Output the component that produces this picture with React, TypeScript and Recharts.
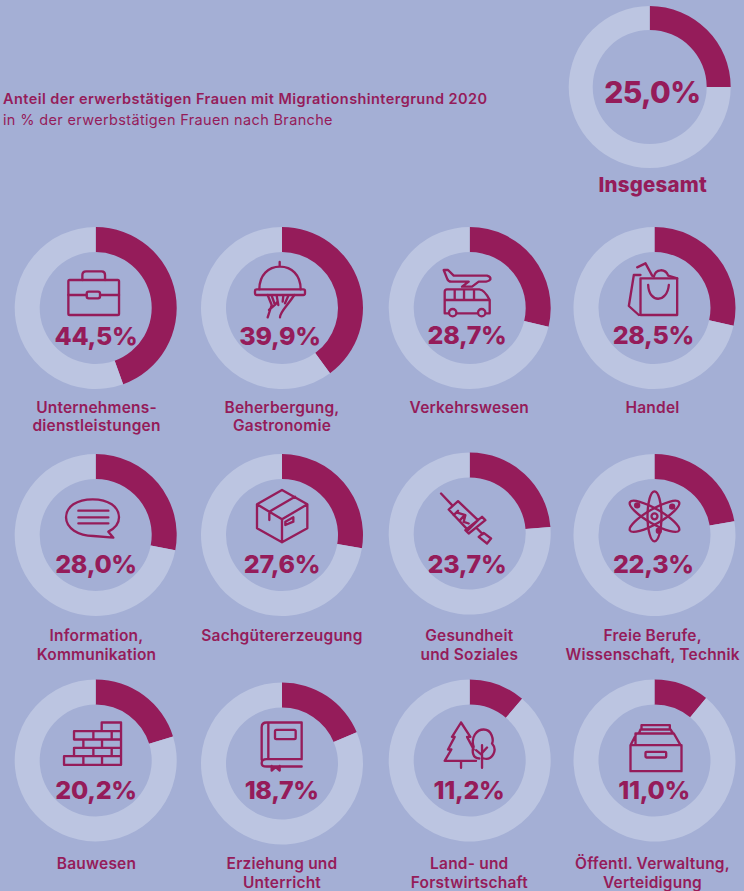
import React from "react";
import { PieChart, Pie, Cell } from "recharts";

const BG = "#A4AFD5";
const LIGHT = "#BCC5E1";
const PURPLE = "#951C5A";
const FONT = "Inter, sans-serif";

// Anteile in %
const totalValue = 25.0;
const totalLabel = "Insgesamt";
const values = [44.5, 39.9, 28.7, 28.5, 28.0, 27.6, 23.7, 22.3, 20.2, 18.7, 11.2, 11.0];
const valueLabels = ["44,5%", "39,9%", "28,7%", "28,5%", "28,0%", "27,6%", "23,7%", "22,3%", "20,2%", "18,7%", "11,2%", "11,0%"];
const categories = [
  ["Unternehmens-", "dienstleistungen"],
  ["Beherbergung,", "Gastronomie"],
  ["Verkehrswesen"],
  ["Handel"],
  ["Information,", "Kommunikation"],
  ["Sachgütererzeugung"],
  ["Gesundheit", "und Soziales"],
  ["Freie Berufe,", "Wissenschaft, Technik"],
  ["Bauwesen"],
  ["Erziehung und", "Unterricht"],
  ["Land- und", "Forstwirtschaft"],
  ["Öffentl. Verwaltung,", "Verteidigung"],
];

// Layout der Ringe
const centerX = [95.7, 282, 469.7, 654.5, 95.7, 282, 469.7, 654.5, 95.7, 282, 469.7, 654.5];
const centerY = [308, 308, 308, 308, 535, 535, 533.5, 535, 760.5, 763.5, 760.5, 760.5];
const pctX = [96, 280, 467, 653.3, 96, 282, 467, 653.3, 96, 281.7, 469, 654];
const pctY = [344.5, 344.5, 344, 344, 572.5, 573, 572.5, 573, 799, 799, 799, 799];
const labelX = [96.5, 282, 469.3, 652.5, 96.5, 282, 469.3, 652.7, 96.5, 282, 469.3, 652.5];
const labelY = [412.7, 412.7, 412.7, 412.7, 641, 641, 641, 641, 869, 869, 869, 869];

const sliceData = (v: number) => [
  { name: "Migrationshintergrund", value: v },
  { name: "Sonstige", value: 100 - v },
];

// Icons in 3x-Koordinaten, o = Ringmitte im selben Raster
const icons: { o: [number, number]; d: React.ReactNode }[] = [
  {
    o: [287, 294],
    d: (
      <>
        <rect x={205} y={210} width={152} height={105} rx={4} />
        <path d="M247 210V195Q247 184 258 184H305Q315 184 315 195V210M205 255H260M300 255H357" />
        <rect x={260} y={245} width={40} height={20} rx={6} />
      </>
    ),
  },
  {
    o: [846, 294],
    d: (
      <>
        <path d="M778 238C778 195 805 170 840 170C875 170 902 195 902 238M839 156V170" />
        <rect x={765} y={238} width={150} height={17} rx={5} />
        <path d="M803 255L815 285L803 322M840 322C840 305 860 290 883 255M815 257L825 285M830 257L835 285M850 257L848 275M865 257L855 280M807 300C815 290 825 290 832 275" />
      </>
    ),
  },
  {
    o: [293, 294],
    d: (
      <>
        <path d="M215 180H228L245 197H345Q357 200 355 208Q350 215 335 215H320L300 230H270L290 215H238Q228 215 225 205Z" />
        <path d="M225 238H322Q338 240 353 270V310H343M315 310H255M228 310H218V245Q218 238 225 238M218 270H353M248 240V270M276 240V270M306 240V270" />
        <circle cx={242} cy={308} r={11} />
        <circle cx={329} cy={308} r={11} />
      </>
    ),
  },
  {
    o: [847, 294],
    d: (
      <>
        <path d="M805 205H915V315H805ZM785 195H805M785 195L770 288L800 315M828 225C830 280 885 280 890 225" />
        <path d="M795 172L820 160L840 197M845 200C850 175 880 175 888 197L915 205" />
      </>
    ),
  },
  {
    o: [287, 285],
    d: (
      <path d="M278 178C230 178 198 200 198 232C198 265 235 287 280 288L340 293L325 275C345 265 357 250 357 232C357 200 325 178 278 178ZM235 212H325M235 232H325M235 250H325" />
    ),
  },
  {
    o: [846, 285],
    d: (
      <path d="M846 150L922 193V265L846 307L771 265V193ZM771 193L846 238L922 193M846 238V307M808 215L885 170M808 215V240M856 245L880 232V245L856 255Z" />
    ),
  },
  {
    o: [293, 280],
    d: (
      <path d="M207 160L240 195M230 208L258 183L318 240L288 270ZM245 225L258 212M262 242L275 228M258 218L280 225L275 245L290 250M280 270L290 280L340 240L330 230ZM312 262L332 282M320 290L345 310L357 295L335 278Z" />
    ),
  },
  {
    o: [847, 285],
    d: (
      <>
        <ellipse cx={847} cy={229} rx={21} ry={75} />
        <ellipse cx={847} cy={229} rx={22} ry={85} transform="rotate(60 847 229)" />
        <ellipse cx={847} cy={229} rx={22} ry={85} transform="rotate(-60 847 229)" />
        <circle cx={847} cy={229} r={9} />
        <circle cx={795} cy={196} r={6} fill={PURPLE} />
        <circle cx={900} cy={200} r={6} fill={PURPLE} />
        <circle cx={860} cy={272} r={6} fill={PURPLE} />
      </>
    ),
  },
  {
    o: [287, 271],
    d: (
      <path d="M305 157H363V284H192V258H363M305 157V182M222 183H363V208H222ZM280 183V208M335 183V208M250 208V233M306 208V233M222 233H363V258H222ZM280 233V258M335 233V258M250 258V284M306 258V284" />
    ),
  },
  {
    o: [846, 281],
    d: (
      <>
        <path d="M785 270V172Q785 158 800 158H905V268H800Q785 268 785 280Q785 290 800 290H905M805 158V268M815 288V302L827 292L839 302V288" />
        <rect x={825} y={180} width={62} height={28} rx={4} />
      </>
    ),
  },
  {
    o: [293, 271],
    d: (
      <path d="M267 157L295 200H285L305 238M267 157L240 200H248L228 238H238L218 272H312M267 272V293M322 265C300 265 300 240 305 230C295 200 315 178 335 178C360 178 365 210 360 220C378 240 360 272 335 265M330 293V225M330 255L312 240M330 248L345 232" />
    ),
  },
  {
    o: [847, 271],
    d: (
      <>
        <path d="M775 225H928V303H775ZM775 225L793 190H905L925 225M790 222V190M800 190L805 178H895L903 190M808 178V165H893V178" />
        <rect x={820} y={245} width={62} height={17} rx={3} />
      </>
    ),
  },
];

export default function App() {
  document.body.style.margin = "0";
  document.body.style.background = BG;

  return (
    <div style={{ width: 744, height: 891, background: BG, overflow: "hidden" }}>
      <PieChart width={744} height={891} margin={{ top: 0, right: 0, bottom: 0, left: 0 }}>
        <Pie
          data={sliceData(totalValue)}
          dataKey="value"
          cx={649.7}
          cy={87}
          innerRadius={57}
          outerRadius={81}
          startAngle={90}
          endAngle={-270}
          stroke="none"
          isAnimationActive={false}
        >
          <Cell fill={PURPLE} />
          <Cell fill={LIGHT} />
        </Pie>
        {values.map((v, i) => (
          <Pie
            key={categories[i][0]}
            data={sliceData(v)}
            dataKey="value"
            cx={centerX[i]}
            cy={centerY[i]}
            innerRadius={56}
            outerRadius={81}
            startAngle={90}
            endAngle={-270}
            stroke="none"
            isAnimationActive={false}
          >
            <Cell fill={PURPLE} />
            <Cell fill={LIGHT} />
          </Pie>
        ))}

        <g fontFamily={FONT} fill={PURPLE}>
          <text x={3} y={104} fontSize={14.5} fontWeight={600} letterSpacing={0.43}>
            Anteil der erwerbstätigen Frauen mit Migrationshintergrund 2020
          </text>
          <text x={3} y={125} fontSize={14.5} fontWeight={400} letterSpacing={0.35}>
            in % der erwerbstätigen Frauen nach Branche
          </text>
          <text x={652.3} y={102.7} fontSize={30} fontWeight={800} textAnchor="middle" letterSpacing={-0.6}>
            25,0%
          </text>
          <text x={652.7} y={191.7} fontSize={20.5} fontWeight={800} textAnchor="middle" letterSpacing={0.2}>
            {totalLabel}
          </text>
          {valueLabels.map((t, i) => (
            <text key={t} x={pctX[i]} y={pctY[i]} fontSize={25} fontWeight={800} textAnchor="middle" letterSpacing={-0.3}>
              {t}
            </text>
          ))}
          {categories.map((lines, i) => (
            <text key={lines[0]} x={labelX[i]} y={labelY[i]} fontSize={15.5} fontWeight={600} textAnchor="middle" letterSpacing={0.2}>
              {lines.map((l, j) => (
                <tspan key={l} x={labelX[i]} dy={j === 0 ? 0 : 18.5}>
                  {l}
                </tspan>
              ))}
            </text>
          ))}
        </g>

        {icons.map((ic, i) => (
          <g
            key={i}
            transform={`translate(${centerX[i]} ${centerY[i]}) scale(${1 / 3}) translate(${-ic.o[0]} ${-ic.o[1]})`}
            fill="none"
            stroke={PURPLE}
            strokeWidth={7}
            strokeLinejoin="round"
            strokeLinecap="round"
          >
            {ic.d}
          </g>
        ))}
      </PieChart>
    </div>
  );
}
